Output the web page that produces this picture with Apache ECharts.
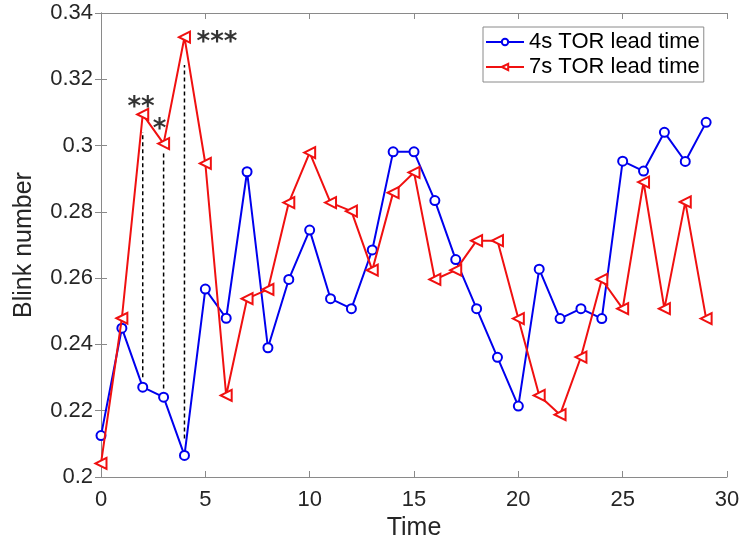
<!DOCTYPE html>
<html>
<head>
<meta charset="utf-8">
<script src="https://cdn.jsdelivr.net/npm/echarts@6/dist/echarts.min.js"></script>
<style>
html,body{margin:0;padding:0;background:#fff;}
#chart{width:743px;height:541px;}
</style>
</head>
<body>
<div id="chart"></div>
<script>
var times = [0,1,2,3,4,5,6,7,8,9,10,11,12,13,14,15,16,17,18,19,20,21,22,23,24,25,26,27,28,29];
var blink4s = [0.2125,0.2449,0.2271,0.2241,0.2065,0.2567,0.2479,0.2921,0.2390,0.2596,
               0.2745,0.2538,0.2508,0.2685,0.2981,0.2981,0.2834,0.2656,0.2508,0.2361,
               0.2214,0.2627,0.2478,0.2508,0.2478,0.2953,0.2923,0.3040,0.2952,0.3070];
var blink7s = [0.2041,0.2479,0.3094,0.3006,0.3327,0.2946,0.2246,0.2538,0.2566,0.2828,
               0.2979,0.2828,0.2802,0.2624,0.2858,0.2919,0.2596,0.2624,0.2713,0.2713,
               0.2478,0.2246,0.2188,0.2362,0.2596,0.2508,0.2890,0.2508,0.2830,0.2478];
var seriesNames = ['4s TOR lead time','7s TOR lead time'];
var sigTimes = [2,3,4];
var sigLow = [0.2301,0.2267,0.2116];
var sigHigh = [0.3041,0.2981,0.3243];
var sigText = ['**','*','***'];
var sigTextX = [1.92,2.80,5.56];
var sigTextY = [0.3137,0.3071,0.3334];
var xTicks = [0,5,10,15,20,25,30];
var yTicks = [0.2,0.22,0.24,0.26,0.28,0.3,0.32,0.34];

var chart = echarts.init(document.getElementById('chart'));
var axisGray = '#8a8a8a';
var font = 'Liberation Sans, Arial, sans-serif';

function pairs(ys){ return times.map(function(t,i){return [t, ys[i]];}); }

var series = [
  {
    name: seriesNames[0], type: 'line', data: pairs(blink4s),
    symbol: 'emptyCircle', symbolSize: 9,
    lineStyle: {color: '#0000ee', width: 2},
    itemStyle: {color: '#0000ee', borderWidth: 2},
    z: 3
  },
  {
    name: seriesNames[1], type: 'line', data: pairs(blink7s),
    symbol: 'emptyTriangle', symbolSize: 11, symbolRotate: 90,
    lineStyle: {color: '#f01010', width: 2},
    itemStyle: {color: '#f01010', borderWidth: 2},
    z: 4
  }
];
sigTimes.forEach(function(t,i){
  series.push({
    name: 'sig' + i, type: 'line', silent: true, symbol: 'none',
    data: [[t, sigLow[i]], [t, sigHigh[i]]],
    lineStyle: {color: '#000', width: 1.5, type: [4,3]},
    z: 2
  });
});
series.push({
  name: 'stars', type: 'scatter', silent: true, symbolSize: 0,
  data: sigText.map(function(s,i){return {value:[sigTextX[i], sigTextY[i]], name:s};}),
  label: {show: true, position: 'inside', formatter: function(p){return p.name;},
          color: '#000', fontSize: 26, fontWeight: 'bold', fontFamily: 'DejaVu Sans', offset:[0,8]},
  z: 5
});

chart.setOption({
  animation: false,
  backgroundColor: '#fff',
  grid: {left: 101, right: 16, top: 13, bottom: 64, containLabel: false, outerBoundsMode: 'none'},
  legend: {
    data: seriesNames,
    orient: 'vertical', left: 483, top: 27,
    backgroundColor: '#fff', borderColor: axisGray, borderWidth: 1,
    padding: [4, 4, 4, 2], itemGap: 3, itemWidth: 38, itemHeight: 8,
    textStyle: {fontSize: 22, fontFamily: font, color: '#000'}
  },
  xAxis: [
    {type: 'value', min: 0, max: 30, interval: 5, name: 'Time', nameLocation: 'middle', nameGap: 37,
     nameTextStyle: {fontSize: 25, fontFamily: font, color: '#262626'},
     axisLine: {show: true, lineStyle: {color: axisGray}},
     axisTick: {inside: true, length: 6, lineStyle: {color: axisGray}},
     axisLabel: {fontSize: 22, fontFamily: font, color: '#262626', margin: 12},
     splitLine: {show: false}},
    {type: 'value', min: 0, max: 30, interval: 5, position: 'top',
     axisLine: {show: true, lineStyle: {color: axisGray}},
     axisTick: {inside: true, length: 6, lineStyle: {color: axisGray}},
     axisLabel: {show: false}, splitLine: {show: false}}
  ],
  yAxis: [
    {type: 'value', min: 0.2, max: 0.34, interval: 0.02, name: 'Blink number', nameLocation: 'middle', nameGap: 64,
     nameTextStyle: {fontSize: 25, fontFamily: font, color: '#262626'},
     axisLine: {show: true, lineStyle: {color: axisGray}},
     axisTick: {inside: true, length: 6, lineStyle: {color: axisGray}},
     axisLabel: {fontSize: 22, fontFamily: font, color: '#262626', margin: 8},
     splitLine: {show: false}},
    {type: 'value', min: 0.2, max: 0.34, interval: 0.02, position: 'right',
     axisLine: {show: true, lineStyle: {color: axisGray}},
     axisTick: {inside: true, length: 6, lineStyle: {color: axisGray}},
     axisLabel: {show: false}, splitLine: {show: false}}
  ],
  series: series
});
</script>
</body>
</html>
